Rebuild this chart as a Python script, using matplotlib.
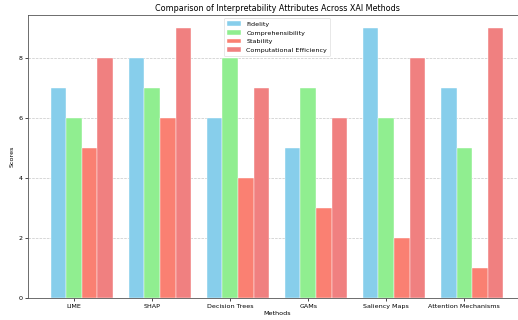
import numpy as np
import matplotlib
matplotlib.use("Agg")
import matplotlib.pyplot as plt

methods = ["LIME", "SHAP", "Decision Trees", "GAMs", "Saliency Maps", "Attention Mechanisms"]
fidelity = [7, 8, 6, 5, 9, 7]
comprehensibility = [6, 7, 8, 7, 6, 5]
stability = [5, 6, 4, 3, 2, 1]
efficiency = [8, 9, 7, 6, 8, 9]

series = [
    ("Fidelity", fidelity, "skyblue"),
    ("Comprehensibility", comprehensibility, "lightgreen"),
    ("Stability", stability, "salmon"),
    ("Computational Efficiency", efficiency, "lightcoral"),
]

fig = plt.figure(figsize=(5.18, 3.2), dpi=100)
ax = fig.add_axes([28 / 518, 1 - 298 / 320, 498 / 518, 283 / 320])

x = np.arange(len(methods))
width = 0.2
for i, (label, vals, color) in enumerate(series):
    ax.bar(x + (i - 1) * width, vals, width, label=label, color=color,
           edgecolor="white", linewidth=0.3)

ax.set_xticks(x)
ax.set_xticklabels(methods, fontsize=4.6)
ax.tick_params(axis="y", labelsize=4.6)
ax.tick_params(length=2, width=0.5, pad=2)
ax.set_xlabel("Methods", fontsize=4.6, labelpad=2)
ax.set_ylabel("Scores", fontsize=4.6, labelpad=3)
ax.set_title("Comparison of Interpretability Attributes Across XAI Methods", fontsize=5.8, pad=3)
ax.yaxis.grid(True, linestyle="--", linewidth=0.5, alpha=0.7)
ax.set_axisbelow(True)
for s in ax.spines.values():
    s.set_linewidth(0.6)
    s.set_color("#555555")

leg = ax.legend(loc="upper center", fontsize=4.6, handlelength=2.2, borderpad=0.5,
                labelspacing=0.5, framealpha=0.8)
leg.get_frame().set_linewidth(0.4)

fig.savefig("out.png", dpi=100)
